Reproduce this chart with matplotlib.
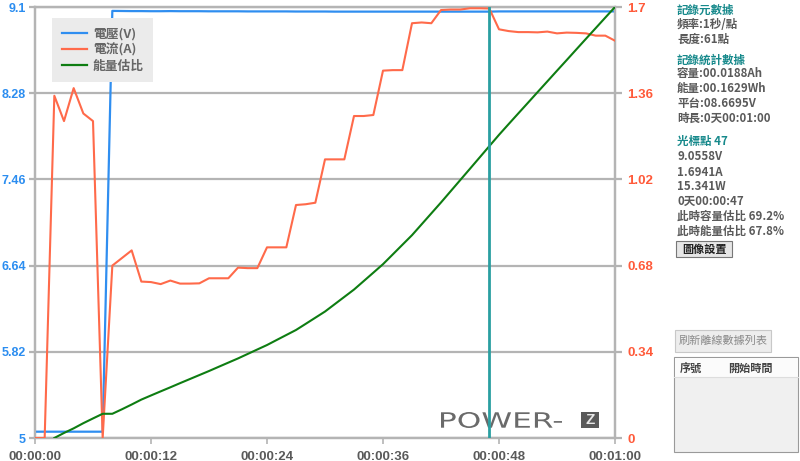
"""
POWER-Z log view: voltage / current / energy ratio over one minute,
with the cursor read-out panel on the right.
"""
import matplotlib
matplotlib.use("Agg")
import matplotlib.pyplot as plt
from matplotlib.patches import Rectangle, PathPatch
from matplotlib.textpath import TextPath
from matplotlib.font_manager import FontProperties
from matplotlib.transforms import Affine2D
from matplotlib.lines import Line2D

CJK = ["Noto Sans CJK TC", "DejaVu Sans"]
NUM = "Liberation Sans"

# ---- data -------------------------------------------------------------
seconds = list(range(61))
voltage = [5.06, 5.06, 5.06, 5.06, 5.06, 5.06, 5.06, 5.06,
           9.063, 9.062, 9.061, 9.061, 9.060, 9.060, 9.061, 9.060, 9.060,
           9.060, 9.059, 9.059, 9.059, 9.059, 9.058, 9.058, 9.058, 9.058,
           9.058, 9.057, 9.057, 9.057, 9.057, 9.056, 9.056, 9.056, 9.056,
           9.056, 9.056, 9.056, 9.056, 9.056, 9.056, 9.056, 9.056, 9.056,
           9.056, 9.056, 9.056, 9.056, 9.058, 9.058, 9.058, 9.058, 9.058,
           9.058, 9.058, 9.058, 9.058, 9.058, 9.058, 9.058, 9.058]
current = [0, 0, 1.35, 1.25, 1.38, 1.28, 1.25, 0,
           0.68, 0.71, 0.74, 0.617, 0.615, 0.607, 0.621, 0.609, 0.609, 0.61,
           0.63, 0.63, 0.63, 0.672, 0.67, 0.67, 0.752, 0.752, 0.752,
           0.919, 0.922, 0.928, 1.099, 1.099, 1.099, 1.27, 1.27, 1.274,
           1.449, 1.451, 1.451, 1.636, 1.639, 1.636, 1.688, 1.69, 1.69,
           1.695, 1.695, 1.694, 1.612, 1.605, 1.601, 1.601, 1.60, 1.603,
           1.596, 1.599, 1.598, 1.596, 1.587, 1.587, 1.567]
energy_pct = [None, None, 0, 1.17, 2.24, 3.44, 4.54, 5.62, 5.62, 6.67,
              7.77, 8.91, 9.87, 10.82, 11.76, 12.72, 13.66, 14.60, 15.54,
              16.52, 17.49, 18.46, 19.50, 20.54, 21.57, 22.74, 23.90, 25.06,
              26.48, 27.91, 29.34, 31.04, 32.74, 34.44, 36.40, 38.36, 40.33,
              42.57, 44.82, 47.06, 49.59, 52.12, 54.65, 57.26, 59.87, 62.48,
              65.10, 67.72, 70.34, 72.84, 75.32, 77.79, 80.27, 82.74, 85.22,
              87.68, 90.16, 92.63, 95.09, 97.55, 100.0]
cursor_t = 47

x_ticks = [0, 12, 24, 36, 48, 60]
x_tick_labels = ["00:00:00", "00:00:12", "00:00:24", "00:00:36", "00:00:48", "00:01:00"]
v_ticks = [5, 5.82, 6.64, 7.46, 8.28, 9.1]
v_tick_labels = ["5", "5.82", "6.64", "7.46", "8.28", "9.1"]
i_ticks = [0, 0.34, 0.68, 1.02, 1.36, 1.7]
i_tick_labels = ["0", "0.34", "0.68", "1.02", "1.36", "1.7"]
series_names = ["電壓(V)", "電流(A)", "能量估比"]

# right-hand panel: (text, y pixel, is heading)
panel_lines = [
    ("記錄元數據", 10, True),
    ("頻率:1秒/點", 25, False),
    ("長度:61點", 39.5, False),
    ("記錄統計數據", 60, True),
    ("容量:00.0188Ah", 73, False),
    ("能量:00.1629Wh", 88, False),
    ("平台:08.6695V", 103, False),
    ("時長:0天00:01:00", 118, False),
    ("光標點 47", 141, True),
    ("9.0558V", 156.5, False),
    ("1.6941A", 172, False),
    ("15.341W", 187, False),
    ("0天00:00:47", 201.5, False),
    ("此時容量估比 69.2%", 216.5, False),
    ("此時能量估比 67.8%", 231.5, False),
]

C_V = "#2f8ef0"
C_I = "#ff6a4a"
C_E = "#0e7d12"
C_CUR = "#2a9fa1"
C_GRID = "#b4b4b4"
C_HEAD = "#16898b"
C_TXT = "#5a5a5a"

W, H = 800, 461


def fx(x):
    return x / W


def fy(y):
    return 1 - y / H


fig = plt.figure(figsize=(W / 100, H / 100), dpi=100)
ax = fig.add_axes([fx(35), 23 / H, 580 / W, 431 / H])

# voltage axis (left)
ax.plot(seconds, voltage, color=C_V, lw=1.6, zorder=3)
ax.set_xlim(0, 60)
ax.set_ylim(5, 9.1)
ax.set_yticks(v_ticks)
ax.set_yticklabels(v_tick_labels)
ax.set_xticks(x_ticks)
ax.set_xticklabels(x_tick_labels)
ax.yaxis.grid(True, color=C_GRID, lw=1.6)
ax.set_axisbelow(True)
for s in ax.spines.values():
    s.set_color(C_GRID)
    s.set_linewidth(1.6)
ax.tick_params(axis="y", length=4.5, width=1.6, color=C_GRID, pad=2,
               labelcolor="#2b8df0", labelsize=9)
ax.tick_params(axis="x", length=4, width=1.2, color=C_GRID, pad=5,
               labelcolor=C_TXT, labelsize=9.5)
for lab in ax.get_yticklabels() + ax.get_xticklabels():
    lab.set_fontfamily(NUM)
    lab.set_fontweight("bold")

# current axis (right)
ax2 = ax.twinx()
ax2.plot(seconds, current, color=C_I, lw=1.5, zorder=3)
ax2.set_ylim(0, 1.7)
ax2.set_yticks(i_ticks)
ax2.set_yticklabels(i_tick_labels)
for s in ax2.spines.values():
    s.set_color(C_GRID)
    s.set_linewidth(1.6)
ax2.tick_params(axis="y", length=5, width=1.6, color=C_GRID, pad=4,
                labelcolor="#ff5a3a", labelsize=9.5)
for lab in ax2.get_yticklabels():
    lab.set_fontfamily(NUM)
    lab.set_fontweight("bold")

# energy ratio (hidden 0-100 scale) + cursor
ax3 = ax.twinx()
ax3.set_ylim(0, 100)
ax3.plot(seconds, [float("nan") if e is None else e for e in energy_pct],
         color=C_E, lw=1.5)
ax3.axvline(cursor_t, color=C_CUR, lw=2)
ax3.axis("off")

# legend
handles = [Line2D([], [], color=c, lw=1.6) for c in (C_V, C_I, C_E)]
leg = ax3.legend(handles, series_names, loc="upper left",
                 bbox_to_anchor=(17 / 580, 1 - 11 / 431),
                 prop=FontProperties(family=CJK, size=9.2, weight="bold"),
                 handlelength=2.0, handletextpad=0.45, labelspacing=0.22,
                 borderpad=0.75, borderaxespad=0, fancybox=False, frameon=True)
leg.get_frame().set_facecolor("#ebebeb")
leg.get_frame().set_edgecolor("none")
leg.get_frame().set_alpha(1)
for t in leg.get_texts():
    t.set_color("#666666")

# POWER-Z logo, drawn in pixel space
tp = TextPath((0, 0), "POWER-", size=30, prop=FontProperties(family="DejaVu Sans"))
bb = tp.get_extents()
logo_tr = (Affine2D().translate(-bb.x0, -bb.y0)
           .scale(121 / bb.width, 16 / bb.height).translate(441, H - 428))
ax.add_patch(PathPatch(tp, transform=logo_tr, facecolor="#6a6a6a",
                       edgecolor="none", clip_on=False, zorder=1))
fig.add_artist(Rectangle((fx(581), fy(428)), 18 / W, 16 / H,
                         transform=fig.transFigure, facecolor="#5a5a5a",
                         edgecolor="none"))
fig.text(fx(590), fy(420), "Z", color="#e8e8e8", fontsize=11, fontweight="bold",
         ha="center", va="center", family=NUM)

# right panel
for txt, y, head in panel_lines:
    fig.text(fx(677), fy(y), txt, family=CJK, fontsize=8.3, fontweight="bold",
             color=C_HEAD if head else C_TXT, va="center", ha="left")

fig.add_artist(Rectangle((fx(676), fy(257)), 56 / W, 16 / H,
                         transform=fig.transFigure, facecolor="#e6e6e6",
                         edgecolor="#777777", lw=0.8))
fig.text(fx(704), fy(249), "圖像設置", family=CJK, fontsize=8, fontweight="bold",
         color="#222222", ha="center", va="center")

fig.add_artist(Rectangle((fx(675), fy(352)), 96 / W, 22 / H,
                         transform=fig.transFigure, facecolor="#ededed",
                         edgecolor="#c8c8c8", lw=0.8))
fig.text(fx(723), fy(341), "刷新離線數據列表", family=CJK, fontsize=8,
         color="#8a8a8a", ha="center", va="center")

fig.add_artist(Rectangle((fx(674), fy(452)), 124 / W, 95 / H,
                         transform=fig.transFigure, facecolor="#f0f0f0",
                         edgecolor="#9a9a9a", lw=0.8))
fig.add_artist(Rectangle((fx(674.5), fy(377)), 123 / W, 19.5 / H,
                         transform=fig.transFigure, facecolor="#fbfbfb",
                         edgecolor="none"))
fig.add_artist(Line2D([fx(674), fx(798)], [fy(377), fy(377)],
                      transform=fig.transFigure, color="#dddddd", lw=0.8))
fig.text(fx(680), fy(368), "序號", family=CJK, fontsize=8, fontweight="bold",
         color="#444444", ha="left", va="center")
fig.text(fx(750), fy(368), "開始時間", family=CJK, fontsize=8, fontweight="bold",
         color="#444444", ha="center", va="center")

fig.savefig("out.png", dpi=100)
